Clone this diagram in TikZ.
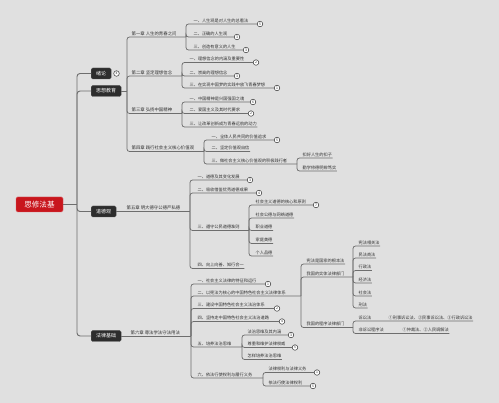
\documentclass[tikz,border=0pt]{standalone}
\usepackage{fontspec}
\newfontfamily\cjk{Noto Sans CJK SC}
\definecolor{bgc}{RGB}{224,224,224}
\definecolor{linec}{RGB}{110,110,110}
\definecolor{txtc}{RGB}{50,50,50}
\definecolor{boxc}{RGB}{45,45,45}
\definecolor{rootc}{RGB}{200,22,29}
\tikzset{
  conn/.style={draw=linec, line width=0.75pt, rounded corners=2.5pt},
  trunk/.style={draw=linec, line width=0.95pt, rounded corners=3pt},
  lbl/.style={anchor=south west, inner xsep=0.4pt, inner ysep=1.3pt, text=txtc, font=\cjk\fontsize{4.2}{4.6}\selectfont},
  chap/.style={anchor=south west, inner xsep=0.4pt, inner ysep=1.3pt, text=txtc, font=\cjk\fontsize{4.4}{4.8}\selectfont},
  num/.style={circle, draw=boxc, fill=white, line width=0.45pt, minimum size=5.6pt, inner sep=0pt, text=boxc, font=\cjk\fontsize{3.4}{3.4}\selectfont},
  topbox/.style={anchor=west, fill=boxc, draw=boxc!80!white, line width=0.3pt, rounded corners=1.5pt, text=white, minimum height=11pt, inner xsep=5pt, inner ysep=0pt, font=\cjk\fontsize{5}{5}\selectfont},
  rootbox/.style={fill=rootc, draw=rootc!70!white, line width=0.4pt, rounded corners=1.5pt, text=white, minimum width=47pt, minimum height=15pt, inner sep=0pt, font=\cjk\fontsize{7.6}{7.6}\selectfont}
}
% leaf without number
\newcommand{\lf}[5]{\node[lbl] (#1) at (#2,#3) {#4};\draw[conn] (#5) |- (#1.south east);}
% leaf with numbered circle
\newcommand{\lfn}[7]{\node[lbl] (#1) at (#2,#3) {#4};\node[num] (#1n) at (#6,#3) {#7};\draw[conn] (#5) |- (#1n.west);}
\begin{document}
\begin{tikzpicture}[x=1pt,y=-1pt]
\fill[bgc] (0,0) rectangle (499,403);
\useasboundingbox (0,0) rectangle (499,403);

% root and main branches
\node[rootbox] (root) at (39.5,204.5) {思修法基};
\coordinate (tr) at (77,204.5);
\draw[trunk] (root.east) -- (tr);
\node[topbox] (xl) at (91,73.5) {绪论};
\node[num] (xln) at (116.5,73.5) {4};
\node[topbox] (sx) at (91,91) {思想教育};
\node[topbox] (dd) at (91,211.5) {道德观};
\node[topbox] (fl) at (91,336) {法律基础};
\draw[trunk] (tr) |- (xl.west);
\draw[trunk] (tr) |- (sx.west);
\draw[trunk] (tr) |- (dd.west);
\draw[trunk] (tr) |- (fl.west);

% ===== 思想教育 =====
\coordinate (b1) at (127,91);
\draw[conn] (sx.east) -- (b1);
\node[chap] (c1) at (131,37) {第一章\ 人生的青春之问};
\coordinate (s1) at (186,37);
\draw[conn] (b1) |- (s1);
\node[chap] (c2) at (131,76) {第二章\ 坚定理想信念};
\coordinate (s2) at (182,76);
\draw[conn] (b1) |- (s2);
\node[chap] (c3) at (131,113.5) {第三章\ 弘扬中国精神};
\coordinate (s3) at (182,113.5);
\draw[conn] (b1) |- (s3);
\node[chap] (c4) at (131,151.5) {第四章\ 践行社会主义核心价值观};
\coordinate (s4) at (204,151.5);
\draw[conn] (b1) |- (s4);

\lfn{a11}{193}{24}{一、人生观是对人生的总看法}{s1}{260}{5}
\lfn{a12}{193}{37}{二、正确的人生观}{s1}{237}{3}
\lfn{a13}{193}{50}{三、创造有意义的人生}{s1}{246}{3}

\lfn{a21}{189}{62.5}{一、理想信念的内涵及重要性}{s2}{256}{2}
\lfn{a22}{189}{76}{二、崇高的理想信念}{s2}{237}{3}
\lfn{a23}{189}{88}{三、在实现中国梦的实践中放飞青春梦想}{s2}{277}{1}

\lfn{a31}{189}{102}{一、中国精神是兴国强国之魂}{s3}{253}{6}
\lfn{a32}{189}{113.5}{二、爱国主义及其时代要求}{s3}{251}{2}
\lf{a33}{189}{127}{三、让改革创新成为青春远航的动力}{s3}

\lfn{a41}{211}{140}{一、全体人民共同的价值追求}{s4}{277}{5}
\lf{a42}{211}{151.5}{二、坚定价值观自信}{s4}
\node[lbl] (a43) at (211,164) {三、做社会主义核心价值观的积极践行者};
\coordinate (s43) at (297,164);
\draw[conn] (s4) |- (s43);
\lf{a431}{302}{158}{扣好人生的扣子}{s43}
\lf{a432}{302}{171}{勤学修德明辨笃实}{s43}

% ===== 道德观 =====
\node[chap] (c5) at (126,211.5) {第五章\ 明大德守公德严私德};
\coordinate (b5) at (190,211.5);
\draw[conn] (dd.east) -- (b5);
\lfn{d1}{197}{180}{一、道德及其变化发展}{b5}{250}{3}
\lfn{d2}{197}{193}{二、吸收借鉴优秀道德成果}{b5}{259}{4}
\node[lbl] (d3) at (197,230.5) {三、遵守公民道德准则};
\coordinate (s53) at (249,230.5);
\draw[conn] (b5) |- (s53);
\lfn{d31}{255}{205}{社会主义道德的核心和原则}{s53}{316}{7}
\lf{d32}{255}{218}{社会公德与网络道德}{s53}
\lf{d33}{255}{230.5}{职业道德}{s53}
\lf{d34}{255}{243.5}{家庭美德}{s53}
\lf{d35}{255}{256}{个人品德}{s53}
\lf{d4}{197}{268.5}{四、向上向善、知行合一}{b5}

% ===== 法律基础 =====
\node[chap] (c6) at (130,336) {第六章\ 尊法学法守法用法};
\coordinate (b6) at (191,336);
\draw[conn] (fl.east) -- (b6);
\lfn{f1}{197}{284}{一、社会主义法律的特征和运行}{b6}{268}{1}
\node[lbl] (f2) at (197,296) {二、以宪法为核心的中国特色社会主义法律体系};
\coordinate (s62) at (301,296);
\draw[conn] (b6) |- (s62);
\lf{f21}{306}{264}{宪法是国家的根本法}{s62}
\node[lbl] (f22) at (306,277) {我国的实体法律部门};
\coordinate (s622) at (353,277);
\draw[conn] (s62) |- (s622);
\lf{f221}{358}{246}{宪法相关法}{s622}
\lf{f222}{358}{258}{民法商法}{s622}
\lf{f223}{358}{270.5}{行政法}{s622}
\lf{f224}{358}{283}{经济法}{s622}
\lf{f225}{358}{296}{社会法}{s622}
\lf{f226}{358}{308}{刑法}{s622}
\node[lbl] (f23) at (306,327.5) {我国的程序法律部门};
\coordinate (s623) at (353,327.5);
\draw[conn] (s62) |- (s623);
\node[lbl] (f231) at (358,321) {诉讼法};
\lf{f231x}{388}{321}{①刑事诉讼法、②民事诉讼法、③行政诉讼法}{s623}
\node[lbl] (f232) at (358,333.5) {非诉讼程序法};
\lf{f232x}{402}{333.5}{①仲裁法、②人民调解法}{s623}
\lfn{f3}{197}{308.5}{三、建设中国特色社会主义法治体系}{b6}{277}{2}
\lfn{f4}{197}{321.5}{四、坚持走中国特色社会主义法治道路}{b6}{282}{4}
\node[lbl] (f5) at (197,347) {五、培养法治思维};
\coordinate (s65) at (242,347);
\draw[conn] (b6) |- (s65);
\lfn{f51}{247}{335}{法治思维及其内涵}{s65}{291}{3}
\lfn{f52}{247}{347.5}{尊重和维护法律权威}{s65}{295}{5}
\lf{f53}{247}{359.5}{怎样培养法治思维}{s65}
\node[lbl] (f6) at (197,378) {六、依法行使权利与履行义务};
\coordinate (s66) at (263,378);
\draw[conn] (b6) |- (s66);
\lfn{f61}{268}{372.5}{法律权利与法律义务}{s66}{317}{1}
\lfn{f62}{268}{386}{依法行使法律权利}{s66}{313}{5}
\end{tikzpicture}
\end{document}
